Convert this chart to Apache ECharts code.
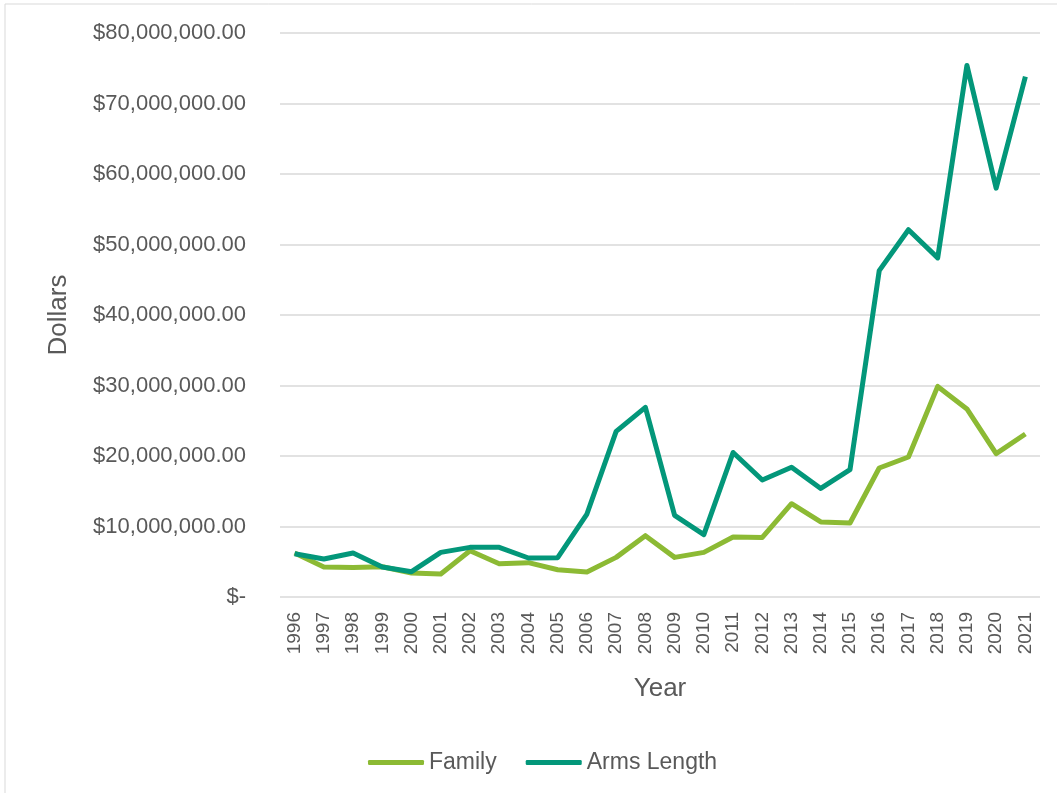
<!DOCTYPE html>
<html>
<head>
<meta charset="utf-8" />
<script src="https://cdn.jsdelivr.net/npm/echarts@6/dist/echarts.min.js"></script>
<style>
  html, body { margin: 0; padding: 0; background: #ffffff; }
  #chart { width: 1057px; height: 793px; }
</style>
</head>
<body>
<div id="chart"></div>
<script>
// Values, in dollars.
const years = ['1996', '1997', '1998', '1999', '2000', '2001', '2002', '2003', '2004', '2005', '2006', '2007', '2008',
  '2009', '2010', '2011', '2012', '2013', '2014', '2015', '2016', '2017', '2018', '2019', '2020', '2021'];
const family = [6240000, 4260000, 4200000, 4300000, 3400000, 3260000, 6570000, 4720000, 4870000, 3870000, 3550000, 5620000, 8700000,
  5620000, 6330000, 8510000, 8450000, 13230000, 10640000, 10500000, 18300000, 19860000, 29870000, 26670000, 20330000, 23120000];
const armsLength = [6140000, 5390000, 6240000, 4260000, 3590000, 6330000, 7040000, 7040000, 5530000, 5570000, 11770000, 23500000, 26900000,
  11580000, 8840000, 20500000, 16600000, 18400000, 15400000, 18060000, 46300000, 52100000, 48100000, 75400000, 58000000, 73800000];

const textColor = '#595959';
const fontFamily = '"Liberation Sans", Arial, sans-serif';

// Excel accounting style: zero shows as "$-".
function dollarLabel(value) {
  if (value === 0) {
    return '$-';
  }
  return '$' + value.toLocaleString('en-US', { minimumFractionDigits: 2, maximumFractionDigits: 2 });
}

const chart = echarts.init(document.getElementById('chart'), null, { renderer: 'canvas' });

chart.setOption({
  animation: false,
  backgroundColor: '#ffffff',
  textStyle: { fontFamily: fontFamily, color: textColor },
  graphic: [{
    type: 'rect',
    shape: { x: 5, y: 4, width: 1060, height: 800 },
    style: { fill: 'none', stroke: '#d9d9d9', lineWidth: 1 },
    silent: true
  }],
  legend: {
    bottom: 14,
    left: 363,
    icon: 'roundRect',
    itemWidth: 56,
    itemHeight: 5,
    itemGap: 29,
    textStyle: { fontSize: 23, color: textColor, fontFamily: fontFamily },
    data: ['Family', 'Arms Length']
  },
  grid: {
    left: 280,
    right: 17,
    top: 33,
    bottom: 196
  },
  xAxis: {
    type: 'category',
    data: years,
    boundaryGap: true,
    name: 'Year',
    nameLocation: 'middle',
    nameGap: 79,
    nameTextStyle: { fontSize: 26, color: textColor },
    axisLine: { show: false },
    axisTick: { show: false },
    axisLabel: {
      rotate: 90,
      interval: 0,
      margin: 15,
      fontSize: 19,
      color: textColor
    }
  },
  yAxis: {
    type: 'value',
    min: 0,
    max: 80000000,
    interval: 10000000,
    name: 'Dollars',
    nameLocation: 'middle',
    nameRotate: 90,
    nameGap: 208,
    nameTextStyle: { fontSize: 26, color: textColor },
    axisLine: { show: false },
    axisTick: { show: false },
    axisLabel: {
      margin: 34,
      fontSize: 22,
      color: textColor,
      formatter: dollarLabel
    },
    splitLine: { lineStyle: { color: '#d9d9d9', width: 1.5 } }
  },
  series: [
    {
      name: 'Family',
      type: 'line',
      data: family,
      symbol: 'none',
      lineStyle: { width: 5, color: '#8cba34', join: 'round' },
      itemStyle: { color: '#8cba34' }
    },
    {
      name: 'Arms Length',
      type: 'line',
      data: armsLength,
      symbol: 'none',
      lineStyle: { width: 5, color: '#03977a', join: 'round' },
      itemStyle: { color: '#03977a' }
    }
  ]
});
</script>
</body>
</html>
